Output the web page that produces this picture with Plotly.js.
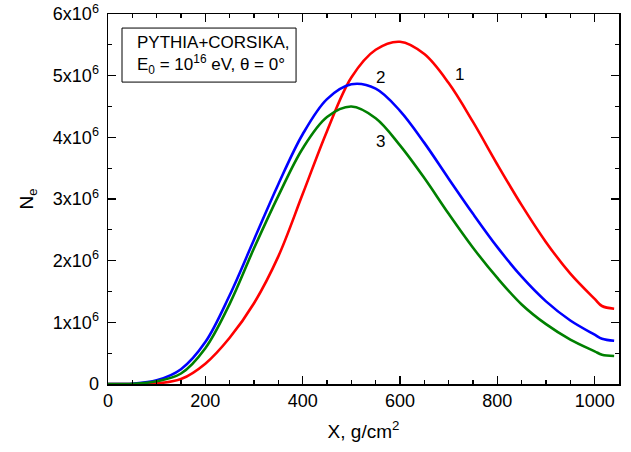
<!DOCTYPE html>
<html>
<head>
<meta charset="utf-8">
<script src="https://cdn.plot.ly/plotly-3.0.1.min.js"></script>
<style>html,body{margin:0;padding:0;background:#fff;}#chart{width:631px;height:452px;}</style>
</head>
<body>
<div id="chart"></div>
<script>
// Depth X (g/cm^2)
const depth = [0, 50, 100, 150, 200, 250, 300, 350, 400, 450, 500, 550, 600, 650, 700, 750, 800, 850, 900, 950, 1000, 1015, 1040];
// Ne in units of 1e6
const curve1 = [0, 0, 0.01, 0.08, 0.33, 0.75, 1.31, 2.07, 3.08, 4.10, 4.97, 5.42, 5.55, 5.35, 4.88, 4.25, 3.56, 2.90, 2.30, 1.79, 1.38, 1.265, 1.22];
const curve2 = [0, 0.005, 0.06, 0.24, 0.68, 1.44, 2.34, 3.24, 4.05, 4.62, 4.86, 4.79, 4.43, 3.91, 3.33, 2.76, 2.22, 1.74, 1.34, 1.03, 0.80, 0.735, 0.70];
const curve3 = [0, 0.004, 0.045, 0.17, 0.58, 1.30, 2.20, 3.05, 3.82, 4.33, 4.50, 4.31, 3.87, 3.34, 2.76, 2.21, 1.72, 1.29, 0.97, 0.72, 0.53, 0.475, 0.455];
const scale = 1e6;
const curveNames = ["1", "2", "3"];
const curveColors = ["#ff0000", "#0000ff", "#008000"];
// label anchor positions in data units
const labelX = [722, 560, 560];
const labelY = [5.02, 4.97, 3.94];
const yTickVals = [0, 1, 2, 3, 4, 5, 6];
const yTickText = ["0", "1x10<sup>6</sup>", "2x10<sup>6</sup>", "3x10<sup>6</sup>", "4x10<sup>6</sup>", "5x10<sup>6</sup>", "6x10<sup>6</sup>"];
const xTickVals = [0, 200, 400, 600, 800, 1000];
const boxText = "PYTHIA+CORSIKA,<br>E<sub>0</sub> = 10<sup>16</sup> eV, θ = 0°";

const font = "Liberation Sans, Arial, sans-serif";
const series = [curve1, curve2, curve3];
const traces = series.map((s, i) => ({
  x: depth,
  y: s.map(v => v * scale),
  type: "scatter",
  mode: "lines",
  name: curveNames[i],
  line: {color: curveColors[i], width: 2.6, shape: "spline", smoothing: 1},
  hoverinfo: "skip"
}));

const axisCommon = {
  showline: true, linecolor: "#000", linewidth: 1.5, mirror: "allticks",
  ticks: "inside", ticklen: 8, tickwidth: 1.3, tickcolor: "#000",
  showgrid: false, zeroline: false,
  tickfont: {family: font, size: 18, color: "#000"}
};

const annotations = labelX.map((x, i) => ({
  x: x, y: labelY[i] * scale, xref: "x", yref: "y", text: curveNames[i], showarrow: false,
  font: {family: font, size: 17, color: "#000"}
}));
annotations.push({
  xref: "paper", yref: "paper", x: 0.053, y: 0.889, xanchor: "left", yanchor: "middle",
  text: boxText, align: "left", showarrow: false,
  font: {family: font, size: 17, color: "#000"}
});

const layout = {
  width: 631, height: 452,
  margin: {l: 108, r: 12, t: 14, b: 68},
  paper_bgcolor: "#fff", plot_bgcolor: "#fff",
  showlegend: false,
  xaxis: Object.assign({}, axisCommon, {
    range: [0, 1050], tickvals: xTickVals,
    minor: {dtick: 50, ticks: "inside", ticklen: 4, tickwidth: 1.3, tickcolor: "#000", showgrid: false},
    title: {text: "X, g/cm<sup>2</sup>", font: {family: font, size: 19, color: "#000"}, standoff: 14}
  }),
  yaxis: Object.assign({}, axisCommon, {
    range: [0, 6e6], tickvals: yTickVals.map(v => v * scale), ticktext: yTickText,
    minor: {dtick: 0.5e6, ticks: "inside", ticklen: 4, tickwidth: 1.3, tickcolor: "#000", showgrid: false},
    ticklabelstandoff: 4,
    title: {text: "N<sub>e</sub>", font: {family: font, size: 19, color: "#000"}, standoff: 14}
  }),
  shapes: [{
    type: "rect", xref: "paper", yref: "paper",
    x0: 0.0274, x1: 0.368, y0: 0.816, y1: 0.962,
    line: {color: "#000", width: 1}, fillcolor: "rgba(0,0,0,0)"
  }],
  annotations: annotations
};

Plotly.newPlot("chart", traces, layout, {staticPlot: true, displayModeBar: false});
</script>
</body>
</html>
